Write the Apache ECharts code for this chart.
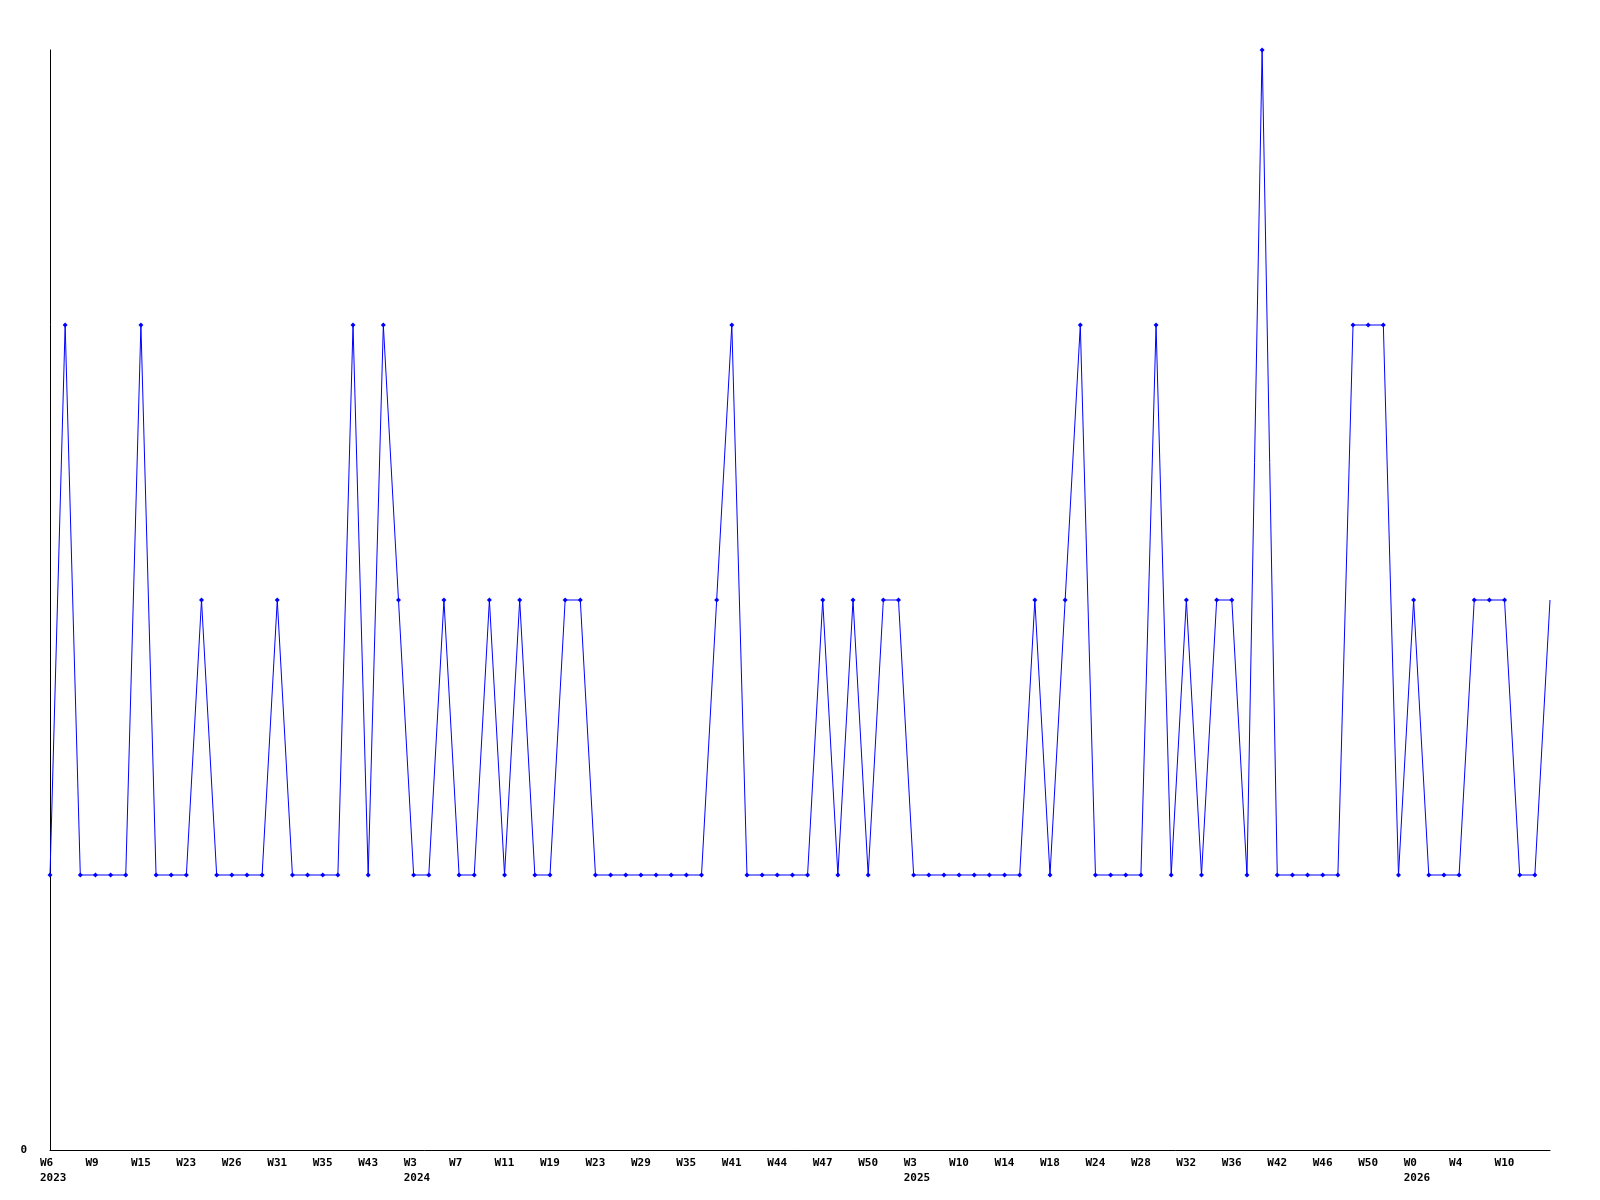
<!DOCTYPE html>
<html>
<head>
<meta charset="utf-8">
<script src="https://cdn.jsdelivr.net/npm/echarts@6/dist/echarts.min.js"></script>
<style>
html,body{margin:0;padding:0;background:#fff;}
#chart{width:1600px;height:1200px;}
</style>
</head>
<body>
<div id="chart"></div>
<script>
// Tick labels shown under every third point
const weekTicks = ['W6','W9','W15','W23','W26','W31','W35','W43','W3','W7','W11','W19','W23','W29','W35','W41','W44','W47','W50','W3','W10','W14','W18','W24','W28','W32','W36','W42','W46','W50','W0','W4','W10'];
// [tick index, year] for the second label line
const yearMarks = [[0,'2023'],[8,'2024'],[19,'2025'],[30,'2026']];
// Series values (one per point)
const values = [
  1,3,1,1,1,1,3,1,1,1,
  2,1,1,1,1,2,1,1,1,1,
  3,1,3,2,1,1,2,1,1,2,
  1,2,1,1,2,2,1,1,1,1,
  1,1,1,1,2,3,1,1,1,1,
  1,2,1,2,1,2,2,1,1,1,
  1,1,1,1,1,2,1,2,3,1,
  1,1,1,3,1,2,1,2,2,1,
  4,1,1,1,1,1,3,3,3,1,
  2,1,1,1,2,2,2,1,1,2
];
const TICK_STEP = 3;

const yearMap = {};
yearMarks.forEach(([k, y]) => { yearMap[k] = y; });
const categories = values.map((v, i) => (i % TICK_STEP === 0 && weekTicks[i / TICK_STEP] !== undefined ? weekTicks[i / TICK_STEP] : ''));
// last point drawn without a marker, as in the reference
const seriesData = values.map((v, i) => (i === values.length - 1 ? {value: v, symbol: 'none'} : v));

const chart = echarts.init(document.getElementById('chart'), null, {renderer: 'canvas'});
const font = 'DejaVu Sans Mono';
chart.setOption({
  backgroundColor: '#ffffff',
  animation: false,
  grid: {left: 50, right: 50, top: 50, bottom: 50, containLabel: false},
  xAxis: {
    type: 'category',
    data: categories,
    boundaryGap: false,
    axisLine: {show: true, lineStyle: {color: '#000', width: 1}},
    axisTick: {show: false},
    splitLine: {show: false},
    axisLabel: {
      interval: TICK_STEP - 1,
      margin: 6,
      align: 'center',
      formatter: function (val, idx) {
        if (!val) return '';
        const k = Math.round(idx / TICK_STEP);
        const y = yearMap[k];
        return y ? '{a|' + val + '}\n{a|' + y + '}' : '{a|' + val + '}';
      },
      rich: {
        a: {width: 20, align: 'left', fontFamily: font, fontSize: 11, fontWeight: 'bold', color: '#000', lineHeight: 15}
      }
    }
  },
  yAxis: {
    type: 'value',
    min: 0,
    max: 4,
    interval: 1,
    axisLine: {show: true, lineStyle: {color: '#000', width: 1}},
    axisTick: {show: false},
    splitLine: {show: false},
    axisLabel: {
      margin: 23,
      fontFamily: font,
      fontSize: 11,
      fontWeight: 'bold',
      color: '#000',
      formatter: function (v) { return v === 0 ? '0' : ''; }
    }
  },
  series: [{
    type: 'line',
    data: seriesData,
    symbol: 'diamond',
    symbolSize: 5,
    showAllSymbol: true,
    lineStyle: {color: '#0000ff', width: 1},
    itemStyle: {color: '#0000ff'}
  }]
});
</script>
</body>
</html>
